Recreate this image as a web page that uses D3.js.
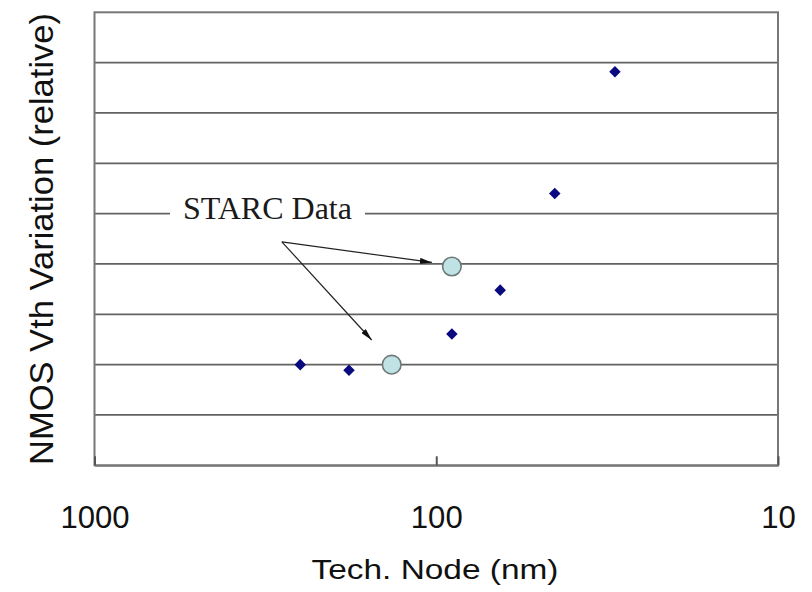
<!DOCTYPE html>
<html>
<head>
<meta charset="utf-8">
<script src="https://d3js.org/d3.v7.min.js"></script>
<style>
  body { margin: 0; background: #fff; }
  svg { display: block; }
</style>
</head>
<body>
<svg width="812" height="592"></svg>
<script>
// tech node (nm) vs relative Vth variation
var techNode = [250, 180, 90, 65, 45, 30];
var vthVar = [2.0, 1.89, 2.61, 3.48, 5.40, 7.82];

// STARC measured points
var starcNode = [135, 90];
var starcVar = [2.0, 3.95];

var xTicks = [1000, 100, 10];
var yGrid = [1, 2, 3, 4, 5, 6, 7, 8];

// annotation: label + arrows (data units)
var noteText = "STARC Data";
var noteLabel = [551, 4.89];
var noteFrom = [283, 4.44];
var noteTips = [[103, 4.03], [154.5, 2.49]];

var svg = d3.select("svg");
var plotL = 94.5, plotR = 778, plotT = 12.3, plotB = 465.3;

var x = d3.scaleLog().domain([1000, 10]).range([plotL, plotR]);
var y = d3.scaleLinear().domain([0, 9]).range([plotB, plotT]);

// gridlines
svg.append("g").attr("class", "grid")
  .selectAll("line")
  .data(yGrid)
  .enter().append("line")
    .attr("x1", plotL).attr("x2", plotR)
    .attr("y1", function(d) { return y(d); })
    .attr("y2", function(d) { return y(d); })
    .attr("stroke", "#626262")
    .attr("stroke-width", 1.8);

// frame
svg.append("rect")
  .attr("x", plotL).attr("y", plotT)
  .attr("width", plotR - plotL).attr("height", plotB - plotT)
  .attr("fill", "none")
  .attr("stroke", "#777")
  .attr("stroke-width", 2);

// x axis
var xAxis = d3.axisBottom(x)
  .tickValues(xTicks)
  .tickFormat(d3.format("d"))
  .tickSizeInner(-9)
  .tickSizeOuter(0)
  .tickPadding(40);

var gx = svg.append("g")
  .attr("transform", "translate(0," + plotB + ")")
  .call(xAxis);
gx.select(".domain").attr("stroke", "#777").attr("stroke-width", 2);
gx.selectAll(".tick line").attr("stroke", "#555").attr("stroke-width", 2);
gx.selectAll(".tick text")
  .attr("font-family", "Liberation Sans, Arial, sans-serif")
  .attr("font-size", 32)
  .attr("fill", "#111")
  .attr("textLength", function(d) { return String(d).length * 17.3; })
  .attr("lengthAdjust", "spacingAndGlyphs");

// axis titles
svg.append("text")
  .attr("x", 435).attr("y", 579)
  .attr("text-anchor", "middle")
  .attr("font-family", "Liberation Sans, Arial, sans-serif")
  .attr("font-size", 27)
  .attr("fill", "#111")
  .attr("textLength", 247)
  .attr("lengthAdjust", "spacingAndGlyphs")
  .text("Tech. Node (nm)");

svg.append("text")
  .attr("transform", "translate(53,239) rotate(-90)")
  .attr("text-anchor", "middle")
  .attr("font-family", "Liberation Sans, Arial, sans-serif")
  .attr("font-size", 34)
  .attr("fill", "#111")
  .attr("textLength", 452)
  .attr("lengthAdjust", "spacingAndGlyphs")
  .text("NMOS Vth Variation (relative)");

// annotation
var defs = svg.append("defs");
defs.append("marker")
  .attr("id", "arrow")
  .attr("viewBox", "0 0 12 6")
  .attr("refX", 12).attr("refY", 3)
  .attr("markerWidth", 12).attr("markerHeight", 6)
  .attr("markerUnits", "userSpaceOnUse")
  .attr("orient", "auto")
  .append("path")
    .attr("d", "M0,0L12,3L0,6Z")
    .attr("fill", "#111");

var note = svg.append("g").attr("class", "note");
var label = note.append("text")
  .attr("x", x(noteLabel[0])).attr("y", y(noteLabel[1]))
  .attr("font-family", "Liberation Serif, Times New Roman, serif")
  .attr("font-size", 32)
  .attr("fill", "#1a1a1a")
  .text(noteText);
var bb = label.node().getBBox();
note.insert("rect", "text")
  .attr("x", bb.x - 13).attr("y", bb.y)
  .attr("width", bb.width + 13 + 13).attr("height", bb.height)
  .attr("fill", "#fff");

note.selectAll("line")
  .data(noteTips)
  .enter().append("line")
    .attr("x1", x(noteFrom[0])).attr("y1", y(noteFrom[1]))
    .attr("x2", function(d) { return x(d[0]); })
    .attr("y2", function(d) { return y(d[1]); })
    .attr("stroke", "#222")
    .attr("stroke-width", 1.2)
    .attr("marker-end", "url(#arrow)");

// diamonds
svg.append("g").attr("class", "pts")
  .selectAll("path")
  .data(techNode)
  .enter().append("path")
    .attr("d", d3.symbol().type(d3.symbolDiamond2).size(85))
    .attr("transform", function(d, i) { return "translate(" + x(d) + "," + y(vthVar[i]) + ")"; })
    .attr("fill", "#0a0a80");

// STARC circles
svg.append("g").attr("class", "starc")
  .selectAll("circle")
  .data(starcNode)
  .enter().append("circle")
    .attr("cx", function(d) { return x(d); })
    .attr("cy", function(d, i) { return y(starcVar[i]); })
    .attr("r", 9.3)
    .attr("fill", "#bfe3e4")
    .attr("stroke", "#6f7878")
    .attr("stroke-width", 1.6);
</script>
</body>
</html>
